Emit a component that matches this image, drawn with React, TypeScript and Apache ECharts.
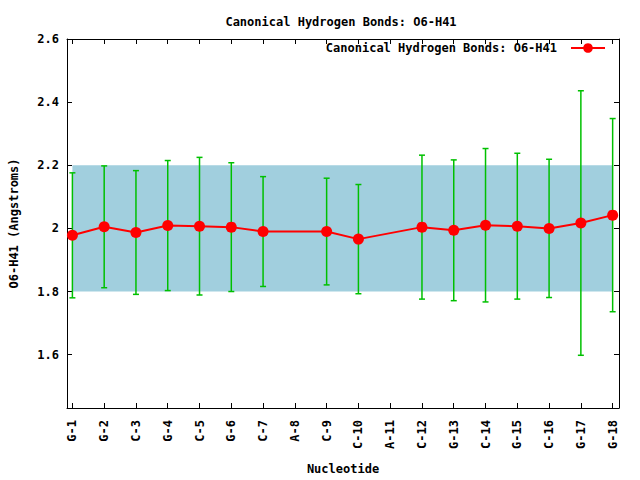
import React, { useEffect, useRef } from "react";
import * as echarts from "echarts";

const titleText = "Canonical Hydrogen Bonds: O6-H41";
const seriesName = "Canonical Hydrogen Bonds: O6-H41";
const names = ["G-1", "G-2", "C-3", "G-4", "C-5", "G-6", "C-7", "A-8", "C-9", "C-10", "A-11", "C-12", "G-13", "C-14", "G-15", "C-16", "G-17", "G-18"];
const means: (number | null)[] = [1.978, 2.005, 1.987, 2.009, 2.007, 2.004, 1.990, null, 1.990, 1.966, null, 2.004, 1.994, 2.010, 2.007, 2.000, 2.017, 2.042];
const errors: (number | null)[] = [0.198, 0.193, 0.196, 0.206, 0.218, 0.204, 0.174, null, 0.169, 0.173, null, 0.228, 0.223, 0.243, 0.231, 0.219, 0.419, 0.306];
const yTicks = [1.6, 1.8, 2.0, 2.2, 2.4, 2.6];
const bandLow = 1.8;
const bandHigh = 2.2;
const yMin = 1.431;
const yMax = 2.6;
const xMin = 0.83;
const xMax = 18.2;

const FONT = "DejaVu Sans Mono";

export default function App() {
  const ref = useRef<HTMLDivElement>(null);
  useEffect(() => {
    if (!ref.current) return;
    const chart = echarts.init(ref.current, null, { renderer: "svg" });
    const positions = names.map((_, i) => i + 1);
    const lineData = positions
      .map((p, i) => [p, means[i]])
      .filter((d) => d[1] !== null);
    const errData = positions
      .map((p, i) =>
        means[i] === null ? null : [p, (means[i] as number) - (errors[i] as number), (means[i] as number) + (errors[i] as number)]
      )
      .filter((d) => d !== null);
    const bandData = [[positions[0], bandLow, positions[positions.length - 1], bandHigh]];
    const txt = { fontFamily: FONT, fontSize: 12, fontWeight: "bold" as const, color: "#000" };
    const axisLine = { show: true, lineStyle: { color: "#000", width: 1 } };
    const tick = { show: true, inside: true, length: 5, lineStyle: { color: "#000" } };

    chart.setOption({
      animation: false,
      backgroundColor: "#fff",
      title: {
        text: titleText,
        left: 336,
        textAlign: "center",
        top: 11,
        textStyle: { ...txt },
      },
      legend: {
        data: [seriesName],
        right: 34,
        top: 42,
        align: "right",
        itemWidth: 34,
        itemHeight: 12,
        padding: 0,
        textStyle: { ...txt, padding: [0, 9, 0, 0] },
      },
      grid: { left: 61, right: 21, top: 39, bottom: 68, containLabel: false },
      xAxis: [
        {
          type: "value",
          min: xMin,
          max: xMax,
          position: "bottom",
          name: "Nucleotide",
          nameLocation: "middle",
          nameGap: 55,
          nameTextStyle: { ...txt },
          axisLine,
          axisTick: { ...tick, customValues: positions },
          axisLabel: {
            ...txt,
            rotate: 90,
            margin: 12,
            customValues: positions,
            formatter: (v: number) => names[Math.round(v) - 1] ?? "",
          },
          splitLine: { show: false },
        },
        {
          type: "value",
          min: xMin,
          max: xMax,
          position: "top",
          axisLine,
          axisTick: { ...tick, customValues: positions },
          axisLabel: { show: false, customValues: positions },
          splitLine: { show: false },
        },
      ],
      yAxis: [
        {
          type: "value",
          min: yMin,
          max: yMax,
          position: "left",
          name: "O6-H41 (Angstroms)",
          nameLocation: "middle",
          nameGap: 47,
          nameTextStyle: { ...txt },
          axisLine,
          axisTick: { ...tick, customValues: yTicks },
          axisLabel: {
            ...txt,
            margin: 8,
            customValues: yTicks,
            formatter: (v: number) => String(+v.toFixed(1)),
          },
          splitLine: { show: false },
        },
        {
          type: "value",
          min: yMin,
          max: yMax,
          position: "right",
          axisLine,
          axisTick: { ...tick, customValues: yTicks },
          axisLabel: { show: false, customValues: yTicks },
          splitLine: { show: false },
        },
      ],
      series: [
        {
          type: "custom",
          name: "band",
          xAxisIndex: 0,
          yAxisIndex: 0,
          z: 1,
          silent: true,
          data: bandData,
          encode: { x: [0, 2], y: [1, 3] },
          renderItem: (params: any, api: any) => {
            const a = api.coord([api.value(0), api.value(3)]);
            const b = api.coord([api.value(2), api.value(1)]);
            return {
              type: "rect",
              shape: { x: a[0], y: a[1], width: b[0] - a[0], height: b[1] - a[1] },
              style: { fill: "#a1cfde" },
            };
          },
        },
        {
          type: "custom",
          name: "errors",
          xAxisIndex: 0,
          yAxisIndex: 0,
          z: 2,
          silent: true,
          data: errData,
          encode: { x: 0, y: [1, 2] },
          renderItem: (params: any, api: any) => {
            const x = api.value(0);
            const lo = api.coord([x, api.value(1)]);
            const hi = api.coord([x, api.value(2)]);
            const w = 3;
            const st = { stroke: "#00c000", lineWidth: 1.5 };
            return {
              type: "group",
              children: [
                { type: "line", shape: { x1: hi[0], y1: hi[1], x2: lo[0], y2: lo[1] }, style: st },
                { type: "line", shape: { x1: hi[0] - w, y1: hi[1], x2: hi[0] + w, y2: hi[1] }, style: st },
                { type: "line", shape: { x1: lo[0] - w, y1: lo[1], x2: lo[0] + w, y2: lo[1] }, style: st },
              ],
            };
          },
        },
        {
          type: "line",
          name: seriesName,
          xAxisIndex: 0,
          yAxisIndex: 0,
          z: 3,
          data: lineData,
          symbol: "circle",
          symbolSize: 11,
          itemStyle: { color: "#ff0000" },
          lineStyle: { color: "#ff0000", width: 2 },
        },
      ],
    });
    return () => chart.dispose();
  }, []);
  return (
    <div
      ref={ref}
      style={{ position: "fixed", left: 0, top: 0, width: 640, height: 480, background: "#fff" }}
    />
  );
}
